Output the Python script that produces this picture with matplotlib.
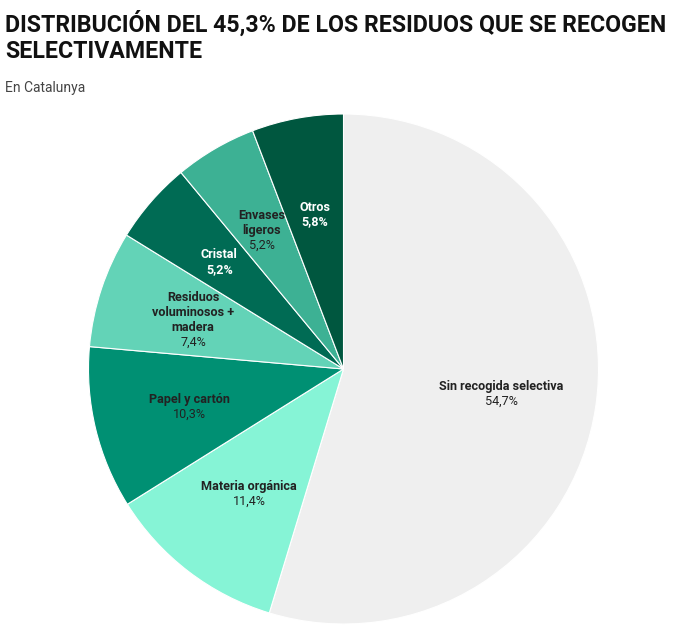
import numpy as np
import matplotlib.pyplot as plt

labels = ["Sin recogida selectiva", "Materia orgánica", "Papel y cartón",
          "Residuos\nvoluminosos +\nmadera", "Cristal", "Envases\nligeros", "Otros"]
values = [54.7, 11.4, 10.3, 7.4, 5.2, 5.2, 5.8]
value_txt = ["54,7%", "11,4%", "10,3%", "7,4%", "5,2%", "5,2%", "5,8%"]
colors = ["#efefef", "#86f4d6", "#009073", "#63d3b7", "#006b54", "#3db194", "#00573f"]
white_lbl = [False, False, False, False, True, False, True]
lbl_dist = [0.625, 0.61, 0.623, 0.622, 0.646, 0.635, 0.62]

plt.rcParams['font.family'] = ['Roboto', 'DejaVu Sans']

fig = plt.figure(figsize=(6.89, 6.35), dpi=100)
W, H = 689, 635

title_lines = ["DISTRIBUCIÓN DEL 45,3% DE LOS RESIDUOS QUE SE RECOGEN", "SELECTIVAMENTE"]
for i, t in enumerate(title_lines):
    fig.text(5 / W, 1 - (32 + 26 * i) / H, t, fontsize=16.7, fontweight='bold',
             color='#111111', va='baseline', ha='left')
fig.text(5 / W, 1 - 92 / H, "En Catalunya", fontsize=10, color='#444444', va='baseline')

# pie axes: center (343.5, 369), radius 255
r = 255
cx, cy = 343.5, 369
ax = fig.add_axes([(cx - r) / W, 1 - (cy + r) / H, 2 * r / W, 2 * r / H])
wedges, _ = ax.pie(values, colors=colors, startangle=90, counterclock=False,
                   wedgeprops=dict(edgecolor='white', linewidth=0.8))
ax.set_xlim(-1, 1)
ax.set_ylim(-1, 1)
ax.set_aspect('equal')
ax.axis('off')

lh = 10.8  # line height in points
for w, lab, vt, wh, d in zip(wedges, labels, value_txt, white_lbl, lbl_dist):
    ang = np.deg2rad((w.theta1 + w.theta2) / 2)
    x, y = d * np.cos(ang), d * np.sin(ang)
    col = 'white' if wh else '#222222'
    lines = lab.split("\n")
    n = len(lines) + 1
    for k, ln in enumerate(lines + [vt]):
        off = (n - 1) / 2 * lh - k * lh - 3.3
        is_val = k == n - 1
        ax.annotate(ln, (x, y), xytext=(0, off), textcoords='offset points',
                    ha='center', va='baseline', fontsize=9.1,
                    fontweight='normal' if (is_val and not wh) else 'bold', color=col)

fig.savefig("out.png", dpi=100, facecolor='white')
